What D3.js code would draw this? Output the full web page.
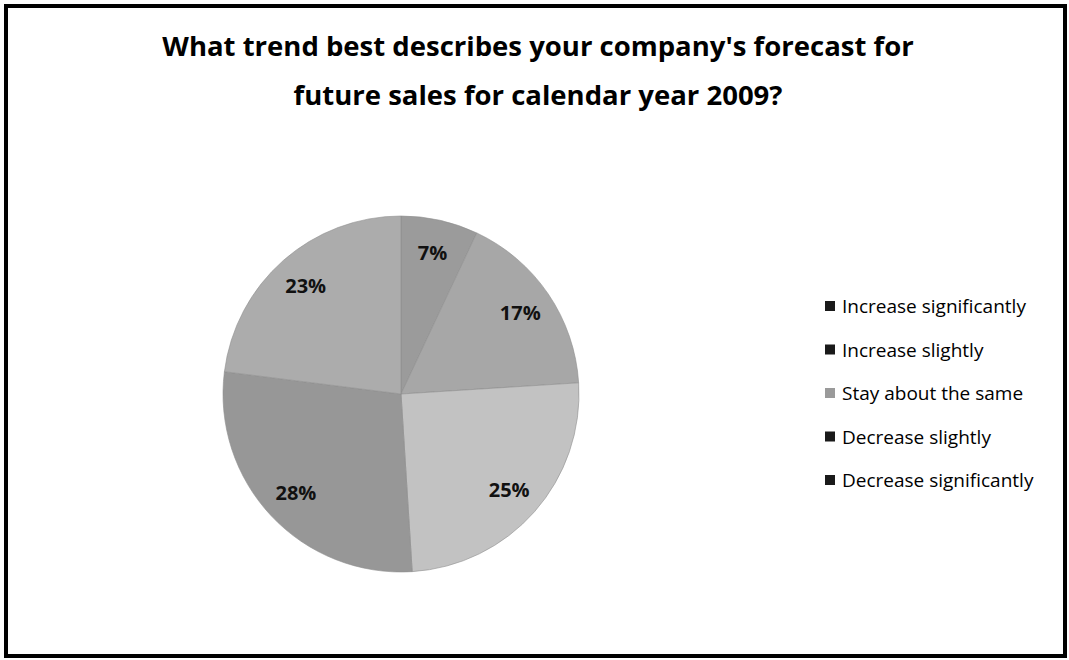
<!DOCTYPE html>
<html>
<head>
<meta charset="utf-8">
<script src="https://cdn.jsdelivr.net/npm/d3@7"></script>
<style>
  html, body { margin: 0; padding: 0; background: #fff; }
  svg { display: block; }
  text { font-family: "Open Sans", "Noto Sans", sans-serif; }
</style>
</head>
<body>
<div id="chart"></div>
<script>
var categories = ["Increase significantly", "Increase slightly", "Stay about the same",
                  "Decrease slightly", "Decrease significantly"];
var values     = [7, 17, 25, 28, 23];
var titleLines = ["What trend best describes your company's forecast for",
                  "future sales for calendar year 2009?"];

var sliceColors  = ["#9b9b9b", "#a7a7a7", "#c2c2c2", "#979797", "#acacac"];
var markerColors = ["#1a1a1a", "#1a1a1a", "#9a9a9a", "#1a1a1a", "#1a1a1a"];

var width = 1069, height = 660;
var cx = 401, cy = 394, radius = 178;

var svg = d3.select("#chart").append("svg")
  .attr("width", width)
  .attr("height", height);

// frame
svg.append("rect")
  .attr("x", 6).attr("y", 6)
  .attr("width", 1059).attr("height", 650)
  .attr("fill", "#fff")
  .attr("stroke", "#000")
  .attr("stroke-width", 4);

// title
svg.append("g").selectAll("text")
  .data(titleLines)
  .enter().append("text")
  .attr("x", 538)
  .attr("y", function(d, i) { return 56 + i * 49; })
  .attr("text-anchor", "middle")
  .attr("font-size", 27.5)
  .attr("font-weight", "bold")
  .attr("fill", "#000")
  .text(function(d) { return d; });

// pie
var pie = d3.pie().sort(null).value(function(d) { return d; });
var arc = d3.arc().innerRadius(0).outerRadius(radius);
var labelArc = d3.arc().innerRadius(radius * 0.81).outerRadius(radius * 0.81);

var g = svg.append("g")
  .attr("transform", "translate(" + cx + "," + cy + ")");

var arcs = pie(values);

g.selectAll("path")
  .data(arcs)
  .enter().append("path")
  .attr("d", arc)
  .attr("fill", function(d, i) { return sliceColors[i]; })
  .attr("stroke", "#8e8e8e")
  .attr("stroke-width", 0.6);

g.selectAll(".label")
  .data(arcs)
  .enter().append("text")
  .attr("class", "label")
  .attr("transform", function(d) { return "translate(" + labelArc.centroid(d) + ")"; })
  .attr("text-anchor", "middle")
  .attr("dy", "0.36em")
  .attr("font-size", 20)
  .attr("font-weight", "bold")
  .attr("fill", "#111")
  .text(function(d) { return d.data + "%"; });

// legend
var legend = svg.append("g")
  .attr("transform", "translate(825,307)");

var y = d3.scalePoint().domain(categories).range([0, 174]);

var item = legend.selectAll(".item")
  .data(categories)
  .enter().append("g")
  .attr("class", "item")
  .attr("transform", function(d) { return "translate(0," + y(d) + ")"; });

item.append("rect")
  .attr("x", 0).attr("y", -6)
  .attr("width", 10).attr("height", 10)
  .attr("fill", function(d, i) { return markerColors[i]; });

item.append("text")
  .attr("x", 17)
  .attr("y", 6)
  .attr("font-size", 19)
  .attr("fill", "#000")
  .text(function(d) { return d; });
</script>
</body>
</html>
